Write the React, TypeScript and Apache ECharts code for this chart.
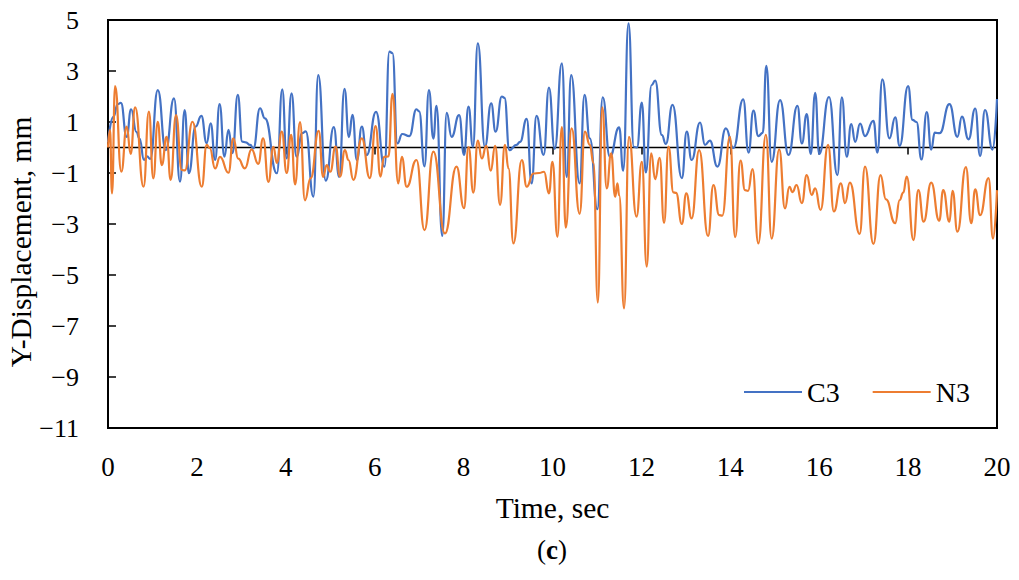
import React, { useEffect, useRef } from "react";
import * as echarts from "echarts";

const FONT = "Liberation Serif";

const seriesNames = ["C3", "N3"];
const xTicks = [0, 2, 4, 6, 8, 10, 12, 14, 16, 18, 20];

const c3Time = [
  0.0, 0.12, 0.22, 0.29, 0.42, 0.52, 0.64, 0.71, 0.81, 0.88, 0.95, 1.12, 1.3, 1.485, 1.62, 1.725, 1.82, 1.97,
  2.1, 2.22, 2.31, 2.41, 2.51, 2.62, 2.71, 2.8, 2.92, 3.02, 3.1, 3.2, 3.27, 3.42, 3.53, 3.8, 3.92, 4.02, 4.13,
  4.24, 4.37, 4.45, 4.62, 4.73, 4.9, 5.08, 5.2, 5.32, 5.42, 5.5, 5.6, 5.71, 5.82, 6.03, 6.22, 6.33, 6.4, 6.51,
  6.62, 6.78, 6.94, 7.0, 7.12, 7.22, 7.32, 7.39, 7.52, 7.62, 7.73, 7.9, 8.01, 8.11, 8.21, 8.32, 8.48, 8.62,
  8.72, 8.86, 8.92, 9.03, 9.19, 9.27, 9.42, 9.53, 9.64, 9.8, 9.92, 10.05, 10.21, 10.32, 10.42, 10.61, 10.72,
  10.84, 11.01, 11.13, 11.29, 11.5, 11.59, 11.71, 11.83, 11.9, 12.01, 12.1, 12.23, 12.31, 12.46, 12.55, 12.7,
  12.91, 13.02, 13.13, 13.32, 13.43, 13.54, 13.71, 13.9, 14.07, 14.29, 14.41, 14.52, 14.63, 14.73, 14.81,
  14.93, 15.12, 15.31, 15.51, 15.61, 15.72, 15.81, 15.91, 16.0, 16.22, 16.41, 16.51, 16.62, 16.72, 16.81,
  16.92, 17.03, 17.22, 17.31, 17.42, 17.58, 17.71, 17.81, 18.0, 18.1, 18.19, 18.3, 18.42, 18.52, 18.6, 18.71,
  18.93, 19.11, 19.21, 19.36, 19.51, 19.62, 19.73, 19.9, 20.0,
];
const c3Disp = [
  0.2, 1.2, 1.7, 1.75, 0.42, 1.5, 0.6, 0.35, -0.49, -0.35, -0.45, 2.25, -0.1, 1.93, -1.34, 1.47, -1.01, 0.82,
  1.24, 0.17, 0.95, -0.49, 1.7, -0.36, 0.69, -0.22, 2.06, 0.23, 0.2, 0.1, -0.03, 1.54, 1.14, -1.01, 2.28, -0.43,
  2.12, -0.36, 0.56, 0.63, -1.93, 2.84, -1.3, 0.8, -1.15, 2.3, 0.41, 1.28, -0.5, 0.82, -0.3, 1.4, -0.75, 3.76,
  3.7, 0.16, 0.53, 0.45, 1.5, 1.42, -0.74, 2.25, 0.35, 1.63, -3.47, 1.36, 0.42, 1.27, -0.29, 1.6, 0.03, 4.08,
  0.03, 1.73, 0.62, 2.0, 1.95, -0.1, 0.1, 0.22, 1.12, -1.41, 1.24, -0.29, 2.35, -0.05, 3.3, -1.15, 2.84, -1.41,
  2.06, 0.36, -2.42, 1.97, -0.36, 0.79, -0.91, 4.87, 0.03, 0.0, 1.76, -0.98, 2.45, 2.62, 0.49, 0.14, 1.67,
  -1.2, 0.62, -0.49, 0.98, 0.1, 0.27, -0.75, 0.75, -0.02, 1.89, -0.2, 1.45, 0.45, 0.57, 3.2, -0.56, 1.86,
  -0.29, 1.63, 0.16, 1.31, -0.25, 2.14, -0.25, 1.98, -1.08, 1.97, -0.36, 0.92, 0.22, 0.94, 0.45, 1.05, -0.2,
  2.67, 0.36, 1.18, 0.06, 2.41, 1.08, 1.0, -0.47, 1.39, -0.08, 0.58, 0.56, 1.7, 0.42, 1.21, 0.32, 1.53, -0.33,
  1.47, -0.08, 1.9,
];

const n3Time = [
  0.0, 0.045, 0.09, 0.16, 0.3, 0.42, 0.51, 0.61, 0.8, 0.92, 1.02, 1.12, 1.21, 1.32, 1.41, 1.53, 1.66, 1.73, 1.9,
  2.11, 2.22, 2.29, 2.41, 2.52, 2.71, 2.82, 2.93, 3.08, 3.23, 3.38, 3.49, 3.61, 3.72, 3.8, 3.91, 4.02, 4.12,
  4.21, 4.32, 4.43, 4.56, 4.74, 4.84, 4.92, 5.0, 5.12, 5.22, 5.33, 5.41, 5.52, 5.71, 5.89, 6.02, 6.13, 6.21,
  6.31, 6.4, 6.53, 6.61, 6.72, 6.94, 7.12, 7.32, 7.58, 7.84, 8.01, 8.11, 8.22, 8.32, 8.41, 8.51, 8.61, 8.71,
  8.82, 8.93, 9.01, 9.12, 9.31, 9.42, 9.57, 9.7, 9.81, 9.92, 10.0, 10.11, 10.21, 10.3, 10.43, 10.61, 10.73,
  10.84, 10.92, 11.02, 11.12, 11.22, 11.32, 11.41, 11.46, 11.5, 11.61, 11.72, 11.89, 12.01, 12.12, 12.22,
  12.31, 12.41, 12.51, 12.61, 12.72, 12.78, 12.91, 13.01, 13.13, 13.3, 13.5, 13.62, 13.75, 13.82, 13.99, 14.11,
  14.23, 14.33, 14.4, 14.5, 14.63, 14.8, 14.93, 15.1, 15.23, 15.33, 15.4, 15.49, 15.61, 15.72, 15.83, 15.91,
  16.03, 16.2, 16.33, 16.49, 16.58, 16.69, 16.91, 17.03, 17.22, 17.38, 17.5, 17.71, 17.81, 17.89, 17.97,
  18.12, 18.23, 18.35, 18.52, 18.7, 18.79, 18.93, 19.0, 19.11, 19.3, 19.42, 19.51, 19.62, 19.81, 19.91, 20.0,
];
const n3Disp = [
  0.0, 0.68, -1.8, 2.41, -0.95, 0.82, -0.25, 1.57, -1.54, 1.41, -1.21, 1.01, -0.69, 0.42, -1.27, 1.27, -0.88,
  -0.9, 1.01, -1.54, 0.1, -0.03, -0.82, -0.37, -0.99, 0.36, -0.44, -0.82, -0.07, -0.64, 0.36, -1.35, 0.03,
  -0.6, 0.62, -1.0, 0.5, -1.45, 1.0, -2.07, -1.2, 0.65, -1.15, -0.69, -0.95, 0.04, -1.14, -0.1, -0.49, -1.27,
  0.36, -1.2, 0.84, -1.14, -0.37, -0.35, 2.1, -1.41, -0.37, -1.54, -0.49, -3.24, -0.16, -3.37, -0.75, -2.38,
  0.02, -1.77, 0.27, -0.43, 0.06, -0.91, 0.06, -2.25, 0.1, -0.82, -3.76, -0.49, -1.54, -1.02, -1.0, -0.95,
  -1.8, -0.56, -3.5, 0.8, -3.14, 0.75, -2.6, 0.62, 0.1, -0.6, -6.08, 1.57, -1.6, -0.23, -1.93, -1.41, -1.87,
  -6.31, 0.42, -2.71, -0.56, -4.67, -0.23, -1.24, -0.41, -2.96, 0.04, -1.76, -1.78, -3.0, -1.8, -2.78, -0.1,
  -3.47, -1.47, -2.65, -2.67, 0.42, -3.52, -0.51, -1.67, -1.7, -0.85, -3.76, 0.5, -3.57, -0.07, -2.39, -1.54,
  -1.75, -1.47, -2.18, -1.08, -1.86, -1.6, -2.45, 0.1, -2.51, -1.41, -2.18, -1.38, -3.39, -0.75, -3.78, -1.08,
  -2.03, -2.97, -2.06, -1.77, -1.14, -3.63, -1.67, -2.91, -1.38, -2.87, -1.67, -2.91, -1.7, -3.3, -0.77,
  -2.97, -1.64, -2.65, -1.2, -3.57, -1.67,
];

const zip = (t: number[], v: number[]) => t.map((x, i) => [x, v[i]]);
const fmtNum = (v: number) => (v < 0 ? "\u2212" + Math.abs(v) : String(v));

export default function App() {
  const ref = useRef<HTMLDivElement>(null);
  useEffect(() => {
    if (!ref.current) return;
    const chart = echarts.init(ref.current, undefined, { renderer: "svg" });
    const lineAxisStyle = { color: "#000", width: 2 };
    const labelStyle = { fontFamily: FONT, fontSize: 26, color: "#000" };
    chart.setOption({
      animation: false,
      backgroundColor: "#fff",
      textStyle: { fontFamily: FONT, color: "#000" },
      grid: {
        left: 108,
        right: 22,
        top: 20,
        bottom: 152,
        show: true,
        borderColor: "#000",
        borderWidth: 2,
        backgroundColor: "transparent",
      },
      legend: {
        data: seriesNames,
        left: 739,
        top: 373,
        icon: "rect",
        itemWidth: 58,
        itemHeight: 2,
        itemGap: 33,
        textStyle: { fontFamily: FONT, fontSize: 28, color: "#000" },
      },
      xAxis: [
        {
          type: "value",
          min: xTicks[0],
          max: xTicks[xTicks.length - 1],
          interval: 2,
          position: "bottom",
          axisLine: { show: true, onZero: false, lineStyle: lineAxisStyle },
          axisTick: { show: false },
          splitLine: { show: false },
          axisLabel: { margin: 25, ...labelStyle, fontSize: 27, formatter: fmtNum },
          name: "Time, sec",
          nameLocation: "middle",
          nameGap: 65,
          nameTextStyle: { fontFamily: FONT, fontSize: 29.5, color: "#000" },
        },
        {
          type: "value",
          min: xTicks[0],
          max: xTicks[xTicks.length - 1],
          interval: 2,
          position: "bottom",
          axisLine: { show: true, onZero: true, onZeroAxisIndex: 0, lineStyle: { color: "#000", width: 1.3 } },
          axisTick: { show: true, inside: false, length: 7, lineStyle: { color: "#000", width: 1.5 } },
          splitLine: { show: false },
          axisLabel: { show: false },
        },
      ],
      yAxis: {
        type: "value",
        min: -11,
        max: 5,
        interval: 2,
        axisLine: { show: true, lineStyle: lineAxisStyle },
        axisTick: { show: true, inside: true, length: 8, lineStyle: { color: "#000", width: 1.5 } },
        splitLine: { show: false },
        axisLabel: { margin: 29, ...labelStyle, formatter: fmtNum },
      },
      graphic: [
        {
          type: "text",
          x: 21,
          y: 242,
          rotation: Math.PI / 2,
          style: {
            text: "Y-Displacement, mm",
            align: "center",
            verticalAlign: "middle",
            fontFamily: FONT,
            fontSize: 29.5,
            fill: "#000",
          },
        },
        {
          type: "text",
          x: 552,
          y: 550,
          style: {
            text: "({b|c})",
            align: "center",
            verticalAlign: "middle",
            fontFamily: FONT,
            fontSize: 27,
            fill: "#000",
            rich: { b: { fontFamily: FONT, fontSize: 27, fontWeight: "bold", fill: "#000" } },
          },
        },
      ],
      series: [
        {
          name: seriesNames[0],
          type: "line",
          xAxisIndex: 0,
          data: zip(c3Time, c3Disp),
          symbol: "none",
          smooth: 0.5,
          smoothMonotone: "x",
          lineStyle: { color: "#4472C4", width: 2.2 },
          itemStyle: { color: "#4472C4" },
        },
        {
          name: seriesNames[1],
          type: "line",
          xAxisIndex: 0,
          data: zip(n3Time, n3Disp),
          symbol: "none",
          smooth: 0.5,
          smoothMonotone: "x",
          lineStyle: { color: "#ED7D31", width: 2.2 },
          itemStyle: { color: "#ED7D31" },
        },
      ],
    });
    return () => chart.dispose();
  }, []);
  return (
    <div
      ref={ref}
      style={{ position: "fixed", left: 0, top: 0, width: 1019, height: 580, background: "#fff" }}
    />
  );
}
